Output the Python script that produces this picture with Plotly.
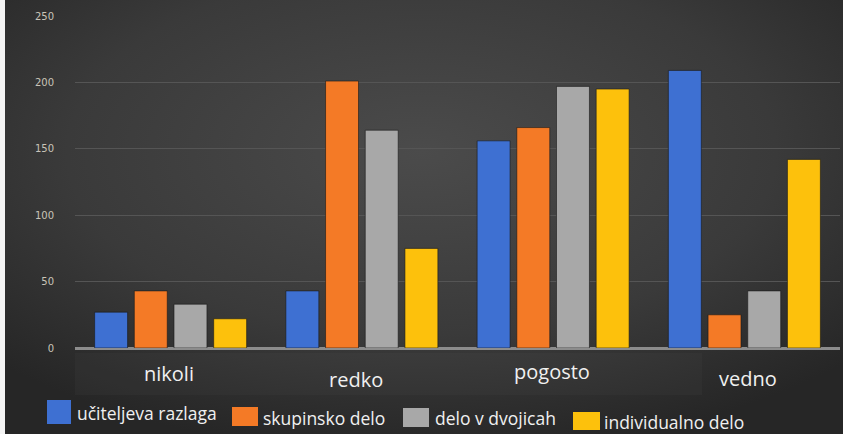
import base64
import plotly.graph_objects as go

categories = ["nikoli", "redko", "pogosto", "vedno"]
series_names = ["učiteljeva razlaga", "skupinsko delo", "delo v dvojicah", "individualno delo"]
ucitelj = [27, 43, 156, 209]
skupinsko = [43, 201, 166, 25]
dvojice = [33, 164, 197, 43]
individualno = [22, 75, 195, 142]
y_ticks = [0, 50, 100, 150, 200, 250]

series_values = [ucitelj, skupinsko, dvojice, individualno]
colors = ["#3e70d2", "#f47a26", "#a8a8a8", "#fdc10c"]

W, H = 843, 434
L, R, T, B = 75, 3, 16, 86
PW, PH = W - L - R, H - T - B


def px(x):
    return (x - L) / PW


def py(y):
    return (H - B - y) / PH


fig = go.Figure()
for name, vals, col in zip(series_names, series_values, colors):
    fig.add_trace(go.Bar(
        x=categories, y=vals, name=name,
        marker=dict(color=col, line=dict(color="rgba(25,25,25,0.6)", width=1)),
        showlegend=False,
    ))

svg = f'''<svg xmlns="http://www.w3.org/2000/svg" width="{W}" height="{H}" viewBox="0 0 {W} {H}" preserveAspectRatio="none">
<defs><radialGradient id="g" cx="50%" cy="35%" r="70%">
<stop offset="0%" stop-color="#4b4b4b"/><stop offset="60%" stop-color="#3a3a3a"/><stop offset="100%" stop-color="#262626"/>
</radialGradient></defs>
<rect width="{W}" height="{H}" fill="url(#g)"/></svg>'''
src = "data:image/svg+xml;base64," + base64.b64encode(svg.encode()).decode()

shapes = [
    dict(type="rect", xref="paper", yref="paper", x0=px(0), x1=px(5), y0=py(H), y1=py(0),
         fillcolor="#f4f4f4", line=dict(width=0), layer="above"),
    dict(type="rect", xref="paper", yref="paper", x0=px(75), x1=px(702), y0=py(395), y1=py(353),
         fillcolor="rgba(255,255,255,0.025)", line=dict(width=0), layer="below"),
]

annotations = []
label_offsets = [(-2, -25), (-6, -31), (-1, -23), (4, -30)]
for cat, (dx, dy) in zip(categories, label_offsets):
    annotations.append(dict(x=cat, y=0, xref="x", yref="y", text=cat, showarrow=False,
                            xshift=dx, yshift=dy, font=dict(family="Open Sans", size=20, color="#f0f0f0")))

legend_items = [(47, 400, 24, 24), (232, 407, 26, 19), (403, 408, 26, 19), (573, 412, 27, 18)]
text_x = [75, 261, 433, 602]
text_y = [413, 418, 418, 422]
for name, col, (x0, y0, w, h), tx, ty in zip(series_names, colors, legend_items, text_x, text_y):
    shapes.append(dict(type="rect", xref="paper", yref="paper", x0=px(x0), x1=px(x0 + w),
                       y0=py(y0 + h), y1=py(y0), fillcolor=col, line=dict(width=0)))
    annotations.append(dict(x=px(tx), y=py(ty), xref="paper", yref="paper", text=name,
                            showarrow=False, xanchor="left", yanchor="middle",
                            font=dict(family="Open Sans", size=17.5, color="#f0f0f0")))

fig.update_layout(
    width=W, height=H,
    margin=dict(l=L, r=R, t=T, b=B),
    paper_bgcolor="#333333",
    plot_bgcolor="rgba(0,0,0,0)",
    barmode="group", bargap=0.17, bargroupgap=0.17,
    images=[dict(source=src, xref="paper", yref="paper", x=px(0), y=py(0),
                 sizex=W / PW, sizey=H / PH, sizing="stretch", layer="below",
                 xanchor="left", yanchor="top")],
    shapes=shapes,
    annotations=annotations,
    xaxis=dict(showticklabels=False, showgrid=False, zeroline=False, showline=False, ticks=""),
    yaxis=dict(range=[0, 250], tickvals=y_ticks, showgrid=True, gridcolor="#555555", gridwidth=1,
               zeroline=True, zerolinecolor="#8c8c8c", zerolinewidth=3,
               ticks="", ticklabelstandoff=20,
               tickfont=dict(family="DejaVu Sans", size=10, color="#c9c4b8")),
)

fig.write_html("out.html", config={"displayModeBar": False},
               post_script="document.body.style.margin='0';document.body.style.overflow='hidden';")
